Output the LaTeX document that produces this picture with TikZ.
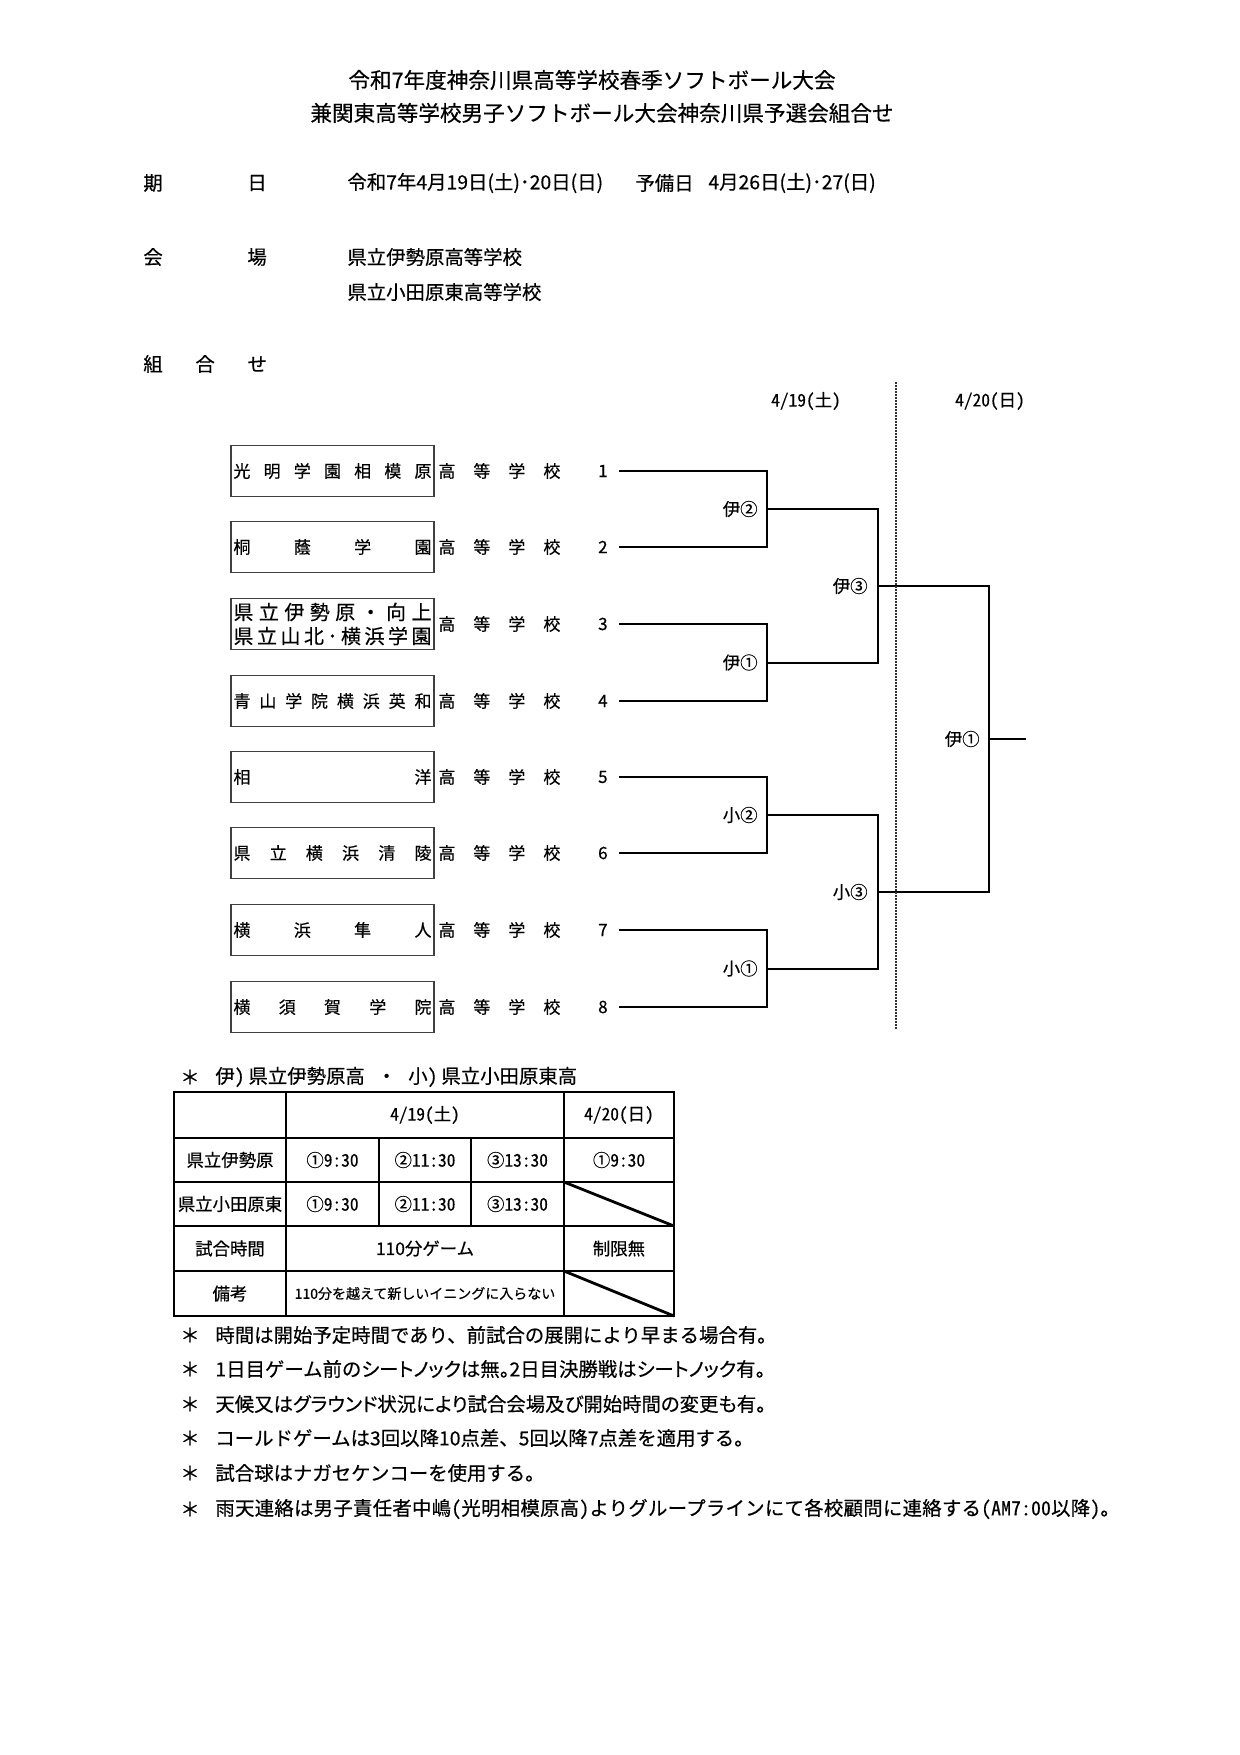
\documentclass[tikz,border=0pt]{standalone}
\usepackage{fontspec}
\setmainfont{Noto Sans CJK JP}[FakeBold=0.4]
\newfontfamily\hw{Noto Sans CJK JP}[FakeBold=0.4, RawFeature=+hwid]
\newfontfamily\hwsp{Noto Sans CJK JP}[FakeBold=0.4, RawFeature=+hwid, LetterSpace=1.4]
\newfontfamily\pr{Noto Sans CJK JP}[FakeBold=0.4, RawFeature=+palt]
\usepackage{tikz}
\usetikzlibrary{positioning}

\newcommand{\fsz}[1]{\fontsize{#1}{#1}\selectfont}
\newcommand{\boxtxt}[1]{\makebox[99pt]{#1}}
\newcommand{\koko}{\makebox[61pt]{高\hfill 等\hfill 学\hfill 校}}

\begin{document}
\begin{tikzpicture}[x=0.5pt, y=-0.5pt,
  txt/.style={inner sep=0pt, anchor=west},
  ttl/.style={txt, font=\fsz{10.8pt}},
  body/.style={txt, font=\fsz{9.7pt}},
  school/.style={draw=black!75, line width=0.8pt, minimum width=101.5pt, minimum height=25.5pt, inner sep=0pt, font=\fsz{8.5pt}},
  num/.style={inner sep=0pt, anchor=east, font=\fsz{8.5pt}},
  lab/.style={inner sep=0pt, font=\fsz{8.7pt}},
  cell/.style={inner sep=0pt, font=\fsz{8.7pt}},
  bline/.style={line width=1pt},
  tline/.style={line width=1pt},
  diag/.style={line width=1.4pt}]
\path[fill=white, use as bounding box] (0,0) rectangle (1240,1755);

% heading
\node[ttl] (title1) at (348,80) {令和7年度神奈川県高等学校春季ソフトボール大会};
\node[ttl] (title2) at (310,113) {兼関東高等学校男子ソフトボール大会神奈川県予選会組合せ};

\node[body] (ki) at (143,183) {期};
\node[body] (bi) at (247,183) {日};
\node[body] (date1) at (347,183) {令和7年4月19日(土)･20日(日)};
\node[body] (yobi) at (635,183) {予備日};
\node[body] (date2) at (708,183) {4月26日(土)･27(日)};

\node[body] (kai) at (143,257) {会};
\node[body] (jo) at (247,257) {場};
\node[body] (venue1) at (347,257) {県立伊勢原高等学校};
\node[body] (venue2) at (347,292) {県立小田原東高等学校};

\node[body] (kumi) at (143,364) {組};
\node[body] (awa) at (195,364) {合};
\node[body] (se) at (247,364) {せ};

% schools
\node[school] (b1) at (332.5,471) {\boxtxt{光\hfill 明\hfill 学\hfill 園\hfill 相\hfill 模\hfill 原}};
\node[school] (b2) at (332.5,547) {\boxtxt{桐\hfill 蔭\hfill 学\hfill 園}};
\node[school, align=center, font=\fontsize{10pt}{12pt}\selectfont] (b3) at (332.5,624)
  {\boxtxt{県\hfill 立\hfill 伊\hfill 勢\hfill 原\hfill ・\hfill 向\hfill 上}\\
   \boxtxt{県\hfill 立\hfill 山\hfill 北\hfill ･\hfill 横\hfill 浜\hfill 学\hfill 園}};
\node[school] (b4) at (332.5,701) {\boxtxt{青\hfill 山\hfill 学\hfill 院\hfill 横\hfill 浜\hfill 英\hfill 和}};
\node[school] (b5) at (332.5,777) {\boxtxt{相\hfill 洋}};
\node[school] (b6) at (332.5,853) {\boxtxt{県\hfill 立\hfill 横\hfill 浜\hfill 清\hfill 陵}};
\node[school] (b7) at (332.5,930) {\boxtxt{横\hfill 浜\hfill 隼\hfill 人}};
\node[school] (b8) at (332.5,1007) {\boxtxt{横\hfill 須\hfill 賀\hfill 学\hfill 院}};

\foreach \i/\y in {1/471,2/547,3/624,4/701,5/777,6/853,7/930,8/1007} {
  \node[txt, font=\fsz{8.5pt}] (h\i) at (438,\y) {\koko};
  \node[num] (n\i) at (608,\y) {\i};
  \coordinate (t\i) at (619,\y);
}

% bracket
\coordinate (q1) at (767,509);
\coordinate (q2) at (767,662.5);
\coordinate (q3) at (767,815);
\coordinate (q4) at (767,968.5);
\coordinate (p1) at (878,586);
\coordinate (p2) at (878,892);
\coordinate (f) at (989,739);
\coordinate (w) at (1026,739);

\draw[bline] (t1) -| (q1) |- (t2);
\draw[bline] (t3) -| (q2) |- (t4);
\draw[bline] (t5) -| (q3) |- (t6);
\draw[bline] (t7) -| (q4) |- (t8);
\draw[bline] (q1) -| (p1) |- (q2);
\draw[bline] (q3) -| (p2) |- (q4);
\draw[bline] (p1) -| (f) |- (p2);
\draw[bline] (f) -- (w);

\node[lab, left=4.5pt of q1] (g1) {伊②};
\node[lab, left=4.5pt of q2] (g2) {伊①};
\node[lab, left=4.5pt of q3] (g3) {小②};
\node[lab, left=4.5pt of q4] (g4) {小①};
\node[lab, left=5pt of p1] (g5) {伊③};
\node[lab, left=5pt of p2] (g6) {小③};
\node[lab, left=4.5pt of f] (g7) {伊①};

\node[lab, font=\hw\fsz{8.7pt}] (day1) at (806,401) {4/19(土)};
\node[lab, font=\hw\fsz{8.7pt}] (day2) at (990,401) {4/20(日)};
\coordinate (dtop) at (896,382);
\coordinate (dbot) at (896,1030);
\draw[line width=0.8pt, black!80, dash pattern=on 0.75pt off 0.75pt] (dtop) -- (dbot);

% table
\node[inner sep=0pt, font=\fsz{9.7pt}] (ast0) at (190,1077) {＊};
\node[body, font=\hw\fsz{9.7pt}] (key) at (215,1077) {伊)\kern2pt 県立伊勢原高\hspace{6pt}・\hspace{6pt}小)\kern2pt 県立小田原東高};

\draw[tline] (174,1092) rectangle (674,1316);
\foreach \y in {1138,1182,1226,1271}
  \draw[tline] (174,\y) -- (674,\y);
\draw[tline] (286,1092) -- (286,1316);
\draw[tline] (564,1092) -- (564,1316);
\draw[line width=0.8pt] (379,1138) -- (379,1226);
\draw[line width=0.8pt] (471,1138) -- (471,1226);
\draw[diag] (564,1182) -- (674,1226);
\draw[diag] (564,1271) -- (674,1316);

\node[cell, font=\hw\fsz{8.7pt}] (c12) at (425,1115) {4/19(土)};
\node[cell, font=\hw\fsz{8.7pt}] (c13) at (619,1115) {4/20(日)};
\node[cell] (c21) at (230,1160) {県立伊勢原};
\node[cell, font=\hw\fsz{8.7pt}] (c22) at (332.5,1160) {①9:30};
\node[cell, font=\hw\fsz{8.7pt}] (c23) at (425,1160) {②11:30};
\node[cell, font=\hw\fsz{8.7pt}] (c24) at (517.5,1160) {③13:30};
\node[cell, font=\hw\fsz{8.7pt}] (c25) at (619,1160) {①9:30};
\node[cell] (c31) at (230,1204) {県立小田原東};
\node[cell, font=\hw\fsz{8.7pt}] (c32) at (332.5,1204) {①9:30};
\node[cell, font=\hw\fsz{8.7pt}] (c33) at (425,1204) {②11:30};
\node[cell, font=\hw\fsz{8.7pt}] (c34) at (517.5,1204) {③13:30};
\node[cell] (c41) at (230,1248.5) {試合時間};
\node[cell] (c42) at (425,1248.5) {110分ゲーム};
\node[cell] (c43) at (619,1248.5) {制限無};
\node[cell] (c51) at (230,1293.5) {備考};
\node[cell, font=\fsz{7pt}] (c52) at (425,1293.5) {110分を越えて新しいイニングに入らない};

% notes
\foreach \i/\y/\f/\t in {1/1335/\relax/時間は開始予定時間であり、前試合の展開により早まる場合有。,
    2/1369/\relax/1日目ゲーム前の{\pr シートノックは無。}2日目決勝戦は{\pr シートノック有。},
    3/1404/\pr/天候又はグラウンド状況により試合会場及び開始時間の変更も有。,
    4/1438/\relax/コールドゲームは3回以降10点差、5回以降7点差を適用する。,
    5/1473/\relax/試合球はナガセケンコーを使用する。,
    6/1509/\hwsp/雨天連絡は男子責任者中嶋(光明相模原高)よりグループラインにて各校顧問に連絡する(AM7:00以降)。} {
  \node[inner sep=0pt, font=\fsz{9.7pt}] (ast\i) at (190,\y) {＊};
  \node[body] (note\i) at (215,\y) {\f\t};
}
\end{tikzpicture}
\end{document}
